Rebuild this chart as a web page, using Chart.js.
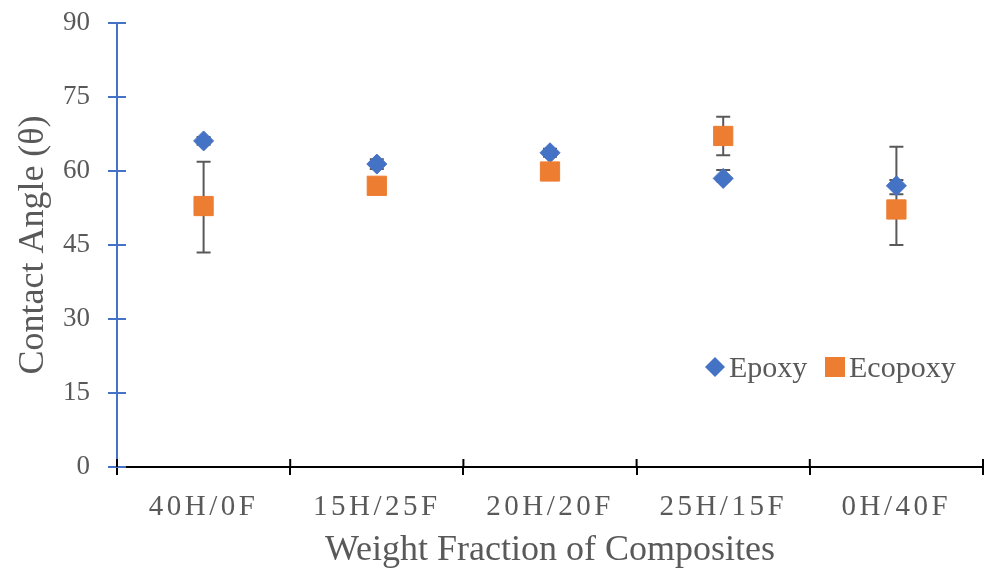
<!DOCTYPE html>
<html>
<head>
<meta charset="utf-8">
<script src="https://cdn.jsdelivr.net/npm/chart.js@4/dist/chart.umd.min.js"></script>
<style>
html,body{margin:0;padding:0;background:#fff;}
#wrap{width:989px;height:572px;position:relative;}
</style>
</head>
<body>
<div id="wrap"><canvas id="c"></canvas></div>
<script>
const categories = ['40H/0F', '15H/25F', '20H/20F', '25H/15F', '0H/40F'];
const epoxy = [66.1, 61.4, 63.7, 58.5, 57.0];
const ecopoxy = [52.9, 57.0, 59.9, 67.1, 52.2];
const epoxyErrPlus = [0.8, 1.0, 0.8, 1.7, 1.2];
const epoxyErrMinus = [0.8, 1.0, 0.8, 0.6, 1.7];
const ecopoxyErrPlus = [9.0, 0.8, 0.8, 3.9, 12.7];
const ecopoxyErrMinus = [9.4, 0.8, 0.8, 3.9, 7.2];
const yTicks = [0, 15, 30, 45, 60, 75, 90];

const BLUE = '#4472C4', ORANGE = '#ED7D31', GRAY = '#595959';
const SERIF = '"Liberation Serif", "Times New Roman", serif';

const errors = [
  {plus: epoxyErrPlus, minus: epoxyErrMinus},
  {plus: ecopoxyErrPlus, minus: ecopoxyErrMinus}
];

const errorBarPlugin = {
  id: 'errorBars',
  beforeDatasetsDraw(chart) {
    const ctx = chart.ctx, y = chart.scales.y;
    ctx.save();
    ctx.strokeStyle = GRAY;
    ctx.lineWidth = 2;
    chart.data.datasets.forEach((ds, i) => {
      const meta = chart.getDatasetMeta(i);
      meta.data.forEach((pt, j) => {
        const v = ds.data[j];
        const yt = y.getPixelForValue(v + errors[i].plus[j]);
        const yb = y.getPixelForValue(v - errors[i].minus[j]);
        ctx.beginPath();
        ctx.moveTo(pt.x, yt); ctx.lineTo(pt.x, yb);
        ctx.moveTo(pt.x - 7, yt); ctx.lineTo(pt.x + 7, yt);
        ctx.moveTo(pt.x - 7, yb); ctx.lineTo(pt.x + 7, yb);
        ctx.stroke();
      });
    });
    ctx.restore();
  }
};

const axisPlugin = {
  id: 'axisExtras',
  beforeDraw(chart) {
    const xs = chart.scales.x;
    if (xs && !xs._spaced) {
      const orig = xs.drawLabels.bind(xs);
      xs.drawLabels = function(area) {
        const ctx = this.ctx;
        ctx.save();
        ctx.letterSpacing = '3.5px';
        orig(area);
        ctx.restore();
      };
      xs._spaced = true;
    }
  },
  afterDraw(chart) {
    const ctx = chart.ctx, ys = chart.scales.y, xs = chart.scales.x;
    const area = chart.chartArea;
    ctx.save();
    ctx.lineWidth = 2;
    ctx.strokeStyle = BLUE;
    ys.ticks.forEach(t => {
      const py = Math.round(ys.getPixelForValue(t.value));
      ctx.beginPath();
      ctx.moveTo(area.left, py); ctx.lineTo(area.left + 9, py);
      ctx.stroke();
    });
    ctx.strokeStyle = '#000';
    const n = categories.length;
    for (let k = 0; k <= n; k++) {
      const px = xs.getPixelForDecimal(k / n);
      ctx.beginPath();
      ctx.moveTo(px, area.bottom); ctx.lineTo(px, area.bottom - 8);
      ctx.stroke();
    }
    // legend
    const items = [
      {label: chart.data.datasets[0].label, x: 715, color: BLUE, shape: 'diamond'},
      {label: chart.data.datasets[1].label, x: 835, color: ORANGE, shape: 'square'}
    ];
    const ly = 367;
    ctx.font = '30px ' + SERIF;
    ctx.textBaseline = 'middle';
    items.forEach(it => {
      ctx.fillStyle = it.color;
      ctx.beginPath();
      if (it.shape === 'diamond') {
        ctx.moveTo(it.x, ly - 10); ctx.lineTo(it.x + 10, ly);
        ctx.lineTo(it.x, ly + 10); ctx.lineTo(it.x - 10, ly);
        ctx.closePath();
      } else {
        ctx.rect(it.x - 10, ly - 10, 20, 20);
      }
      ctx.fill();
      ctx.fillStyle = GRAY;
      ctx.textAlign = 'left';
      ctx.fillText(it.label, it.x + 14, ly + 2);
    });
    ctx.restore();
  }
};

new Chart(document.getElementById('c'), {
  type: 'line',
  data: {
    labels: categories,
    datasets: [
      {
        label: 'Epoxy', data: epoxy, showLine: false,
        pointStyle: 'rectRot', pointRadius: 10, pointBorderWidth: 1,
        backgroundColor: BLUE, borderColor: BLUE, order: 2
      },
      {
        label: 'Ecopoxy', data: ecopoxy, showLine: false,
        pointStyle: 'rect', pointRadius: 13.6, pointBorderWidth: 1,
        backgroundColor: ORANGE, borderColor: ORANGE, order: 1
      }
    ]
  },
  options: {
    responsive: true,
    maintainAspectRatio: false,
    animation: false,
    events: [],
    layout: {autoPadding: false, padding: {top: 23, right: 6, left: 0, bottom: 0}},
    plugins: {legend: {display: false}, tooltip: {enabled: false}},
    scales: {
      x: {
        type: 'category',
        offset: true,
        grid: {offset: true, drawOnChartArea: false, drawTicks: true, tickLength: 8, color: '#000', lineWidth: 2},
        border: {display: true, color: '#000', width: 2},
        ticks: {color: GRAY, font: {family: SERIF, size: 29}, padding: 15, maxRotation: 0, autoSkip: false},
        title: {display: true, text: 'Weight Fraction of Composites', color: GRAY, font: {family: SERIF, size: 36}, padding: {top: -4, bottom: 0}},
        afterFit: s => { s.height = 105; s.paddingLeft = 0; s.paddingRight = 0; }
      },
      y: {
        min: 0, max: 90,
        afterBuildTicks: s => { s.ticks = yTicks.map(v => ({value: v})); },
        grid: {drawOnChartArea: false, drawTicks: true, tickLength: 9, color: BLUE, lineWidth: 2},
        border: {display: true, color: BLUE, width: 2},
        ticks: {color: GRAY, font: {family: SERIF, size: 27}, padding: 18},
        title: {display: true, text: 'Contact Angle (θ)', color: GRAY, font: {family: SERIF, size: 36}, padding: {top: 12, bottom: 0}},
        afterFit: s => { s.width = 117; s.paddingTop = 0; s.paddingBottom = 0; }
      }
    }
  },
  plugins: [errorBarPlugin, axisPlugin]
});
</script>
</body>
</html>
